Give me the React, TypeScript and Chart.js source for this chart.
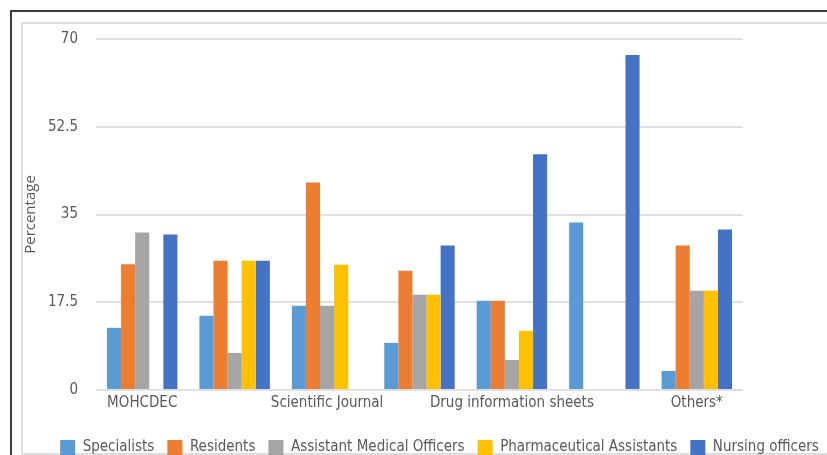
import React, { useEffect, useRef } from 'react';
import { Chart, registerables } from 'chart.js';

Chart.register(...registerables);

const categories = ['MOHCDEC', '', 'Scientific Journal', '', 'Drug information sheets', '', 'Others*'];
const seriesNames = ['Specialists', 'Residents', 'Assistant Medical Officers', 'Pharmaceutical Assistants', 'Nursing officers'];
const specialists = [12.4, 14.8, 16.8, 9.4, 17.8, 33.4, 3.8];
const residents = [25.1, 25.8, 41.4, 23.8, 17.8, 0, 28.8];
const assistantMedicalOfficers = [31.4, 7.4, 16.8, 19.0, 6.0, 0, 19.8];
const pharmaceuticalAssistants = [0, 25.8, 25.0, 19.0, 11.8, 0, 19.8];
const nursingOfficers = [31.0, 25.8, 0, 28.8, 47.0, 66.8, 32.0];
const yTicks = [0, 17.5, 35, 52.5, 70];

const colors = ['#5B9BD5', '#ED7D31', '#A5A5A5', '#FFC000', '#4472C4'];
const FONT = "'DejaVu Sans Condensed', 'DejaVu Sans', sans-serif";
const TEXT = '#595959';

export default function App() {
  const ref = useRef<HTMLCanvasElement>(null);

  useEffect(() => {
    const values = [specialists, residents, assistantMedicalOfficers, pharmaceuticalAssistants, nursingOfficers];
    const chart = new Chart(ref.current as HTMLCanvasElement, {
      type: 'bar',
      data: {
        labels: categories,
        datasets: seriesNames.map((name, i) => ({
          label: name,
          data: values[i],
          backgroundColor: colors[i],
          borderWidth: 0,
          categoryPercentage: 0.762,
          barPercentage: 1,
        })),
      },
      options: {
        responsive: false,
        animation: false,
        layout: { padding: { left: 22, right: 16, top: 39, bottom: 0 } },
        font: { family: FONT, size: 15 },
        plugins: {
          tooltip: { enabled: false },
          legend: {
            position: 'bottom',
            labels: {
              boxWidth: 15,
              boxHeight: 15,
              padding: 13,
              color: TEXT,
              font: { family: FONT, size: 15 },
            },
          },
        },
        scales: {
          x: {
            grid: { display: false, drawTicks: false },
            border: { display: false },
            ticks: {
              autoSkip: false,
              maxRotation: 0,
              minRotation: 0,
              padding: 4,
              color: TEXT,
              font: { family: FONT, size: 15 },
            },
            afterFit: (s: any) => { s.height = 37; },
          },
          y: {
            min: 0,
            max: 70,
            border: { display: false },
            grid: { color: '#e0e0e0', lineWidth: 2, drawTicks: false },
            ticks: {
              padding: 18,
              color: TEXT,
              font: { family: FONT, size: 15 },
              callback: (v: any) => String(v),
            },
            afterBuildTicks: (s: any) => { s.ticks = yTicks.map((v) => ({ value: v })); },
            afterFit: (s: any) => { s.width = 74; },
            title: {
              display: true,
              text: 'Percentage',
              color: TEXT,
              padding: { top: 0, bottom: 0 },
              font: { family: "'Open Sans', sans-serif", size: 15 },
            },
          },
          y2: {
            type: 'linear',
            position: 'right',
            display: true,
            grid: { display: false },
            border: { display: false },
            ticks: { display: false },
            afterFit: (s: any) => { s.width = 114; },
          },
        },
      } as any,
    });
    return () => chart.destroy();
  }, []);

  return (
    <div style={{ position: 'fixed', left: 0, top: 0, width: 827, height: 455, overflow: 'hidden', background: '#fff' }}>
      <div style={{ position: 'absolute', left: 10, top: 10, width: 900, height: 500, borderLeft: '2px solid #3c3c3c', borderTop: '2px solid #3c3c3c' }} />
      <div style={{ position: 'absolute', left: 21, top: 22, width: 880, height: 429, border: '2px solid #dedede' }} />
      <canvas ref={ref} width={873} height={465} style={{ position: 'absolute', left: 0, top: 0, width: 873, height: 465 }} />
    </div>
  );
}
